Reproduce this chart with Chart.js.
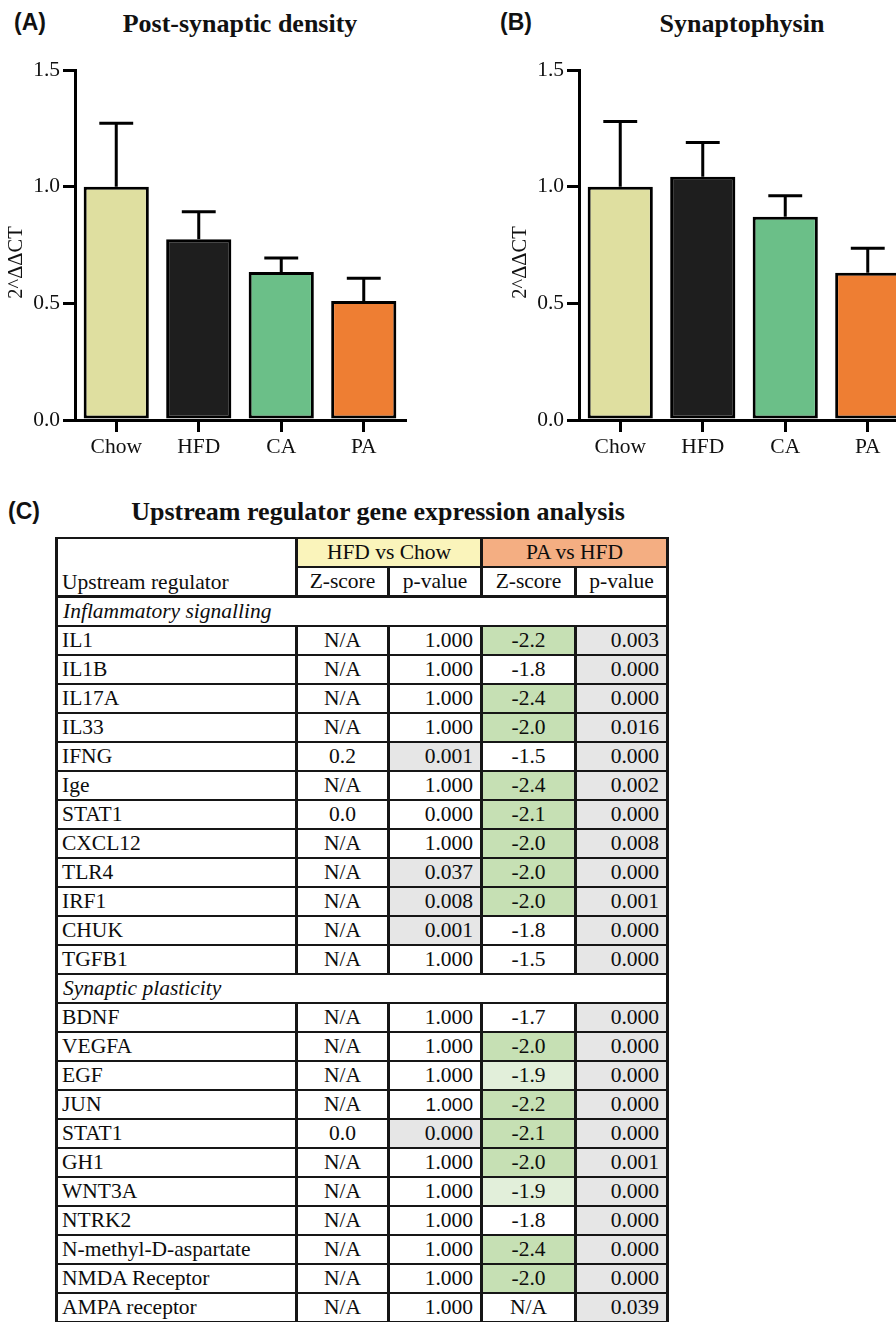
<!DOCTYPE html>
<html>
<head>
<meta charset="utf-8">
<script src="https://cdn.jsdelivr.net/npm/chart.js@4"></script>
<style>
  html, body { margin:0; padding:0; background:#fff; }
  #page { position:relative; width:896px; height:1322px; overflow:hidden; background:#fff; }
  .panel { position:absolute; font-family:"Liberation Sans", Arial, sans-serif; font-weight:bold; font-size:23px; color:#111; line-height:26px; }
  .title { position:absolute; font-family:"Liberation Serif", "Times New Roman", serif; font-weight:bold; font-size:26px; color:#111; line-height:30px; white-space:nowrap; transform:translateX(-50%); }
  .cv { position:absolute; top:0; }
  #tblwrap { position:absolute; left:55px; top:537px; }
  table { border-collapse:collapse; table-layout:fixed; width:612px; font-family:"Liberation Serif", "Times New Roman", serif; font-size:21.5px; color:#0d0d0d; }
  td { border:2px solid #161616; border-left-width:3px; border-right-width:3px; padding:0 6px; height:27px; line-height:25px; white-space:nowrap; overflow:hidden; }
  td.c { text-align:center; }
  td.r { text-align:right; padding-right:7px; }
  td.grp { font-style:italic; text-align:left; padding-left:5px; }
  td.name { padding-left:4px; }
  td.sans { font-family:"Liberation Sans", Arial, sans-serif; font-size:19px; }
  tr.hdr1 td { border-bottom-width:1px; }
  tr.hdr2 td { border-bottom-width:3px; }
</style>
</head>
<body>
<div id="page">
  <div class="panel" style="left:14px; top:9px;">(A)</div>
  <div class="panel" style="left:500px; top:9px;">(B)</div>
  <div class="title" style="left:240px; top:9px;">Post-synaptic density</div>
  <div class="title" style="left:742px; top:9px;">Synaptophysin</div>
  <div class="cv" style="left:0px;"><canvas id="chartA" width="448" height="470"></canvas></div>
  <div class="cv" style="left:504px;"><canvas id="chartB" width="448" height="470"></canvas></div>
  <div class="panel" style="left:8px; top:498px;">(C)</div>
  <div class="title" style="left:378px; top:497px;">Upstream regulator gene expression analysis</div>
  <div id="tblwrap"></div>
</div>
<script>
// ---------- Bar chart data ----------
const categories = ['Chow', 'HFD', 'CA', 'PA'];
const barColors = ['#dfdfa0', '#1e1e1e', '#6bbf88', '#ee7e33'];
const yTickValues = [0, 0.5, 1.0, 1.5];
const yTickLabels = ['0.0', '0.5', '1.0', '1.5'];
const yAxisLabel = '2^\u0394\u0394CT';

const psdMeans = [1.00, 0.775, 0.634, 0.510];
const psdSem   = [0.272, 0.117, 0.060, 0.098];
const sypMeans = [1.00, 1.043, 0.871, 0.631];
const sypSem   = [0.279, 0.146, 0.090, 0.105];

// ---------- Table data ----------
const colGroups = ['HFD vs Chow', 'PA vs HFD'];
const colHeads = ['Z-score', 'p-value', 'Z-score', 'p-value'];
const firstHead = 'Upstream regulator';

const group1 = 'Inflammatory signalling';
const names1 = ['IL1','IL1B','IL17A','IL33','IFNG','Ige','STAT1','CXCL12','TLR4','IRF1','CHUK','TGFB1'];
const hfdZ1  = ['N/A','N/A','N/A','N/A','0.2','N/A','0.0','N/A','N/A','N/A','N/A','N/A'];
const hfdP1  = ['1.000','1.000','1.000','1.000','0.001','1.000','0.000','1.000','0.037','0.008','0.001','1.000'];
const hfdPHi1 = [0,0,0,0,1,0,0,0,1,1,1,0];
const hfdPSans1 = [0,0,0,0,0,0,0,0,0,0,0,0];
const paZ1   = ['-2.2','-1.8','-2.4','-2.0','-1.5','-2.4','-2.1','-2.0','-2.0','-2.0','-1.8','-1.5'];
const paZHi1 = [2,0,2,2,0,2,2,2,2,2,0,0];
const paP1   = ['0.003','0.000','0.000','0.016','0.000','0.002','0.000','0.008','0.000','0.001','0.000','0.000'];

const group2 = 'Synaptic plasticity';
const names2 = ['BDNF','VEGFA','EGF','JUN','STAT1','GH1','WNT3A','NTRK2','N-methyl-D-aspartate','NMDA Receptor','AMPA receptor'];
const hfdZ2  = ['N/A','N/A','N/A','N/A','0.0','N/A','N/A','N/A','N/A','N/A','N/A'];
const hfdP2  = ['1.000','1.000','1.000','1.000','0.000','1.000','1.000','1.000','1.000','1.000','1.000'];
const hfdPHi2 = [0,0,0,0,1,0,0,0,0,0,0];
const hfdPSans2 = [0,0,0,1,0,0,0,0,0,0,0];
const paZ2   = ['-1.7','-2.0','-1.9','-2.2','-2.1','-2.0','-1.9','-1.8','-2.4','-2.0','N/A'];
const paZHi2 = [0,2,1,2,2,2,1,0,2,2,0];
const paP2   = ['0.000','0.000','0.000','0.000','0.000','0.001','0.000','0.000','0.000','0.000','0.039'];

// ---------- Charts ----------
const SERIF = '"Liberation Serif", "Times New Roman", serif';

const errorBars = {
  id: 'errorBars',
  afterDatasetsDraw(chart, args, opts) {
    const meta = chart.getDatasetMeta(0);
    const ys = chart.scales.y;
    const ctx = chart.ctx;
    const vals = chart.data.datasets[0].data;
    ctx.save();
    ctx.strokeStyle = '#000';
    ctx.lineWidth = 3;
    ctx.lineCap = 'butt';
    meta.data.forEach((bar, i) => {
      const yBase = ys.getPixelForValue(vals[i]);
      const yTop = ys.getPixelForValue(vals[i] + opts.errors[i]);
      const half = bar.width * 0.26;
      ctx.beginPath();
      ctx.moveTo(bar.x, yBase);
      ctx.lineTo(bar.x, yTop);
      ctx.moveTo(bar.x - half, yTop);
      ctx.lineTo(bar.x + half, yTop);
      ctx.stroke();
    });
    ctx.restore();
  }
};

const yTitle = {
  id: 'yTitle',
  afterDraw(chart, args, opts) {
    const ctx = chart.ctx;
    const a = chart.chartArea;
    ctx.save();
    ctx.translate(opts.x, a.top + (a.bottom - a.top) * opts.frac);
    ctx.rotate(-Math.PI / 2);
    ctx.font = '20.5px ' + SERIF;
    ctx.fillStyle = '#111';
    ctx.textAlign = 'center';
    ctx.textBaseline = 'middle';
    ctx.fillText(opts.text, 0, 0);
    ctx.restore();
  }
};

function makeChart(id, means, sem) {
  return new Chart(document.getElementById(id), {
    type: 'bar',
    data: {
      labels: categories,
      datasets: [{
        data: means,
        backgroundColor: barColors,
        borderColor: '#000',
        borderWidth: 3,
        borderSkipped: false,
        barPercentage: 0.79,
        categoryPercentage: 1.0
      }]
    },
    plugins: [errorBars, yTitle],
    options: {
      responsive: false,
      animation: false,
      devicePixelRatio: 1,
      layout: { padding: { top: 70, right: 43, left: 0, bottom: 0 } },
      plugins: {
        legend: { display: false },
        tooltip: { enabled: false },
        errorBars: { errors: sem },
        yTitle: { text: yAxisLabel, x: 17, frac: 0.55 }
      },
      scales: {
        x: {
          grid: { display: true, drawOnChartArea: false, drawTicks: true, tickLength: 12, lineWidth: 3, color: '#000', offset: false },
          border: { display: true, width: 3, color: '#000' },
          ticks: { font: { family: SERIF, size: 21.5 }, color: '#111', padding: 2 },
          afterFit(s) { s.height = 50; }
        },
        y: {
          min: 0, max: 1.5,
          grid: { display: true, drawOnChartArea: false, drawTicks: true, tickLength: 12, lineWidth: 3, color: '#000' },
          border: { display: true, width: 3, color: '#000' },
          ticks: {
            font: { family: SERIF, size: 21.5 }, color: '#111', padding: 3,
            callback: (v) => { const k = yTickValues.indexOf(v); return k >= 0 ? yTickLabels[k] : ''; }
          },
          afterBuildTicks(s) { s.ticks = yTickValues.map(v => ({ value: v })); },
          afterFit(s) { s.width = 75; }
        }
      }
    }
  });
}

makeChart('chartA', psdMeans, psdSem);
makeChart('chartB', sypMeans, sypSem);

// ---------- Table ----------
const GREEN = '#c6e0b4', LIGHTGREEN = '#e2efda', GRAY = '#e6e6e6', YELLOW = '#faf4bb', ORANGE = '#f4ae82';
const colWidths = [240, 92, 93, 94, 92];

function td(text, cls, bg) {
  return '<td class="' + cls + '"' + (bg ? ' style="background:' + bg + '"' : '') + '>' + text + '</td>';
}
let html = '<table><colgroup>' + colWidths.map(w => '<col style="width:' + w + 'px">').join('') + '</colgroup>';
html += '<tr class="hdr1"><td class="name" rowspan="2" style="vertical-align:bottom;border-bottom-width:3px">' + firstHead + '</td>' +
        '<td class="c" colspan="2" style="background:' + YELLOW + '">' + colGroups[0] + '</td>' +
        '<td class="c" colspan="2" style="background:' + ORANGE + '">' + colGroups[1] + '</td></tr>';
html += '<tr class="hdr2">' + colHeads.map(h => td(h, 'c')).join('') + '</tr>';

function addGroup(title, names, hz, hp, hpHi, hpSans, pz, pzHi, pp) {
  html += '<tr><td class="grp" colspan="5">' + title + '</td></tr>';
  names.forEach((n, i) => {
    html += '<tr>' + td(n, 'name') + td(hz[i], 'c') + td(hp[i], hpSans[i] ? 'r sans' : 'r', hpHi[i] ? GRAY : '') +
      td(pz[i], 'c', pzHi[i] === 2 ? GREEN : (pzHi[i] === 1 ? LIGHTGREEN : '')) +
      td(pp[i], 'r', GRAY) + '</tr>';
  });
}
addGroup(group1, names1, hfdZ1, hfdP1, hfdPHi1, hfdPSans1, paZ1, paZHi1, paP1);
addGroup(group2, names2, hfdZ2, hfdP2, hfdPHi2, hfdPSans2, paZ2, paZHi2, paP2);
html += '</table>';
document.getElementById('tblwrap').innerHTML = html;
</script>
</body>
</html>
